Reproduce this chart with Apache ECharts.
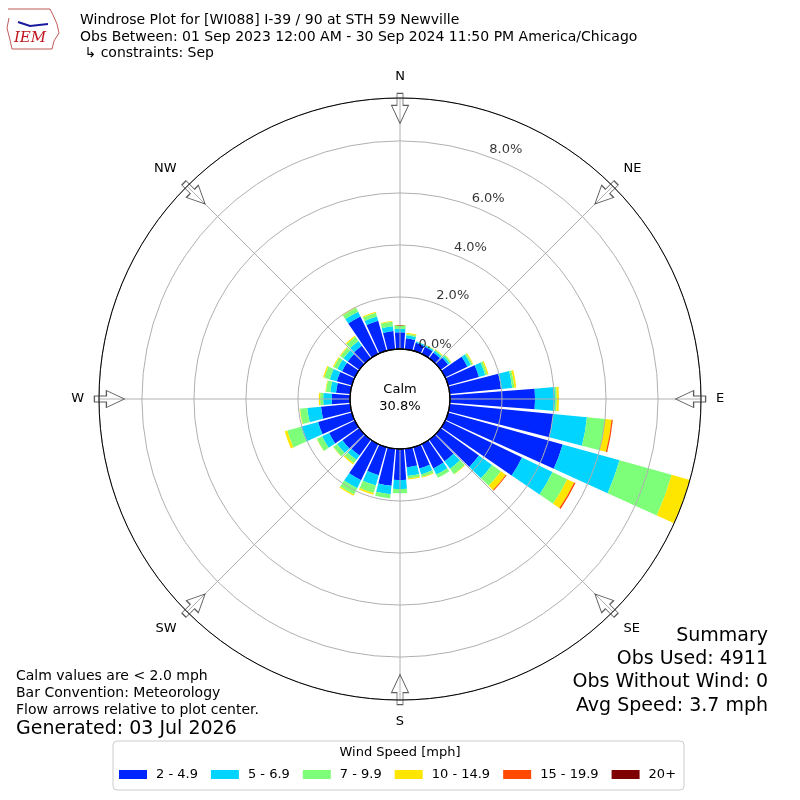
<!DOCTYPE html>
<html>
<head>
<meta charset="utf-8">
<script src="https://cdn.jsdelivr.net/npm/echarts@6/dist/echarts.min.js"></script>
<style>html,body{margin:0;padding:0;background:#fff;}#c{width:800px;height:800px;}</style>
</head>
<body>
<div id="c"></div>
<script>
// ---- data ----
const directions = [0,10,20,30,40,50,60,70,80,90,100,110,120,130,140,150,160,170,180,190,200,210,220,230,240,250,260,270,280,290,300,310,320,330,340,350];
const speedBins = ['2 - 4.9','5 - 6.9','7 - 9.9','10 - 14.9','15 - 19.9','20+'];
const bin1 = [0.64,0.42,0.32,0.30,0.28,0.35,0.95,1.23,1.98,3.27,4.00,4.57,3.28,1.81,1.02,1.04,0.85,0.72,1.19,1.43,1.12,1.54,0.75,0.80,1.10,1.35,1.13,0.70,0.55,0.60,0.55,0.55,0.60,1.60,1.20,0.70];
const bin2 = [0.14,0.12,0.05,0.06,0.08,0.08,0.15,0.25,0.43,0.77,1.30,2.27,1.30,0.62,0.36,0.26,0.24,0.33,0.35,0.33,0.41,0.34,0.20,0.25,0.30,0.68,0.53,0.33,0.22,0.28,0.20,0.20,0.22,0.20,0.17,0.19];
const bin3 = [0.13,0.06,0.01,0.02,0.05,0.06,0.07,0.08,0.09,0.07,0.70,2.08,0.63,0.42,0.25,0.14,0.10,0.10,0.16,0.16,0.30,0.27,0.17,0.18,0.22,0.55,0.28,0.12,0.17,0.22,0.15,0.15,0.20,0.17,0.15,0.17];
const bin4 = [0.01,0.04,0.00,0.01,0.02,0.02,0.03,0.05,0.07,0.08,0.25,0.73,0.29,0.23,0.02,0.00,0.03,0.04,0.00,0.00,0.07,0.05,0.05,0.01,0.01,0.10,0.02,0.05,0.02,0.05,0.04,0.03,0.05,0.03,0.04,0.03];
const bin5 = [0,0,0,0,0,0,0,0,0,0,0.05,0,0.06,0.04,0,0,0,0,0,0,0,0,0,0,0,0,0,0,0,0,0,0,0,0,0,0];
const bin6 = [0,0,0,0,0,0,0,0,0,0,0,0,0,0,0,0,0,0,0,0,0,0,0,0,0,0,0,0,0,0,0,0,0,0,0,0];
const binColors = ['#0026ff','#00d4ff','#7dff7a','#ffe600','#ff4a00','#7f0000'];
const ringTicks = [0,2,4,6,8];
const compass = {0:'N',45:'NE',90:'E',135:'SE',180:'S',225:'SW',270:'W',315:'NW'};
const arrowAngles = [0,45,90,135,180,225,270,315];
const rMax = 9.65;
const calmPct = '30.8%';

const chart = echarts.init(document.getElementById('c'), null, {renderer:'canvas'});
const FONT = '"DejaVu Sans", sans-serif';
const center = [400, 399];
const binData = [bin1,bin2,bin3,bin4,bin5,bin6];

const barSeries = speedBins.map((name,i)=>({
  name: name, type:'bar', coordinateSystem:'polar', polarIndex:0, stack:'w',
  data: binData[i], barCategoryGap:'12%',
  itemStyle:{color: binColors[i]}, z:2
}));

const arrowPath = 'path://M-3,0 L3,0 L3,12 L8.5,12 L0,30 L-8.5,12 L-3,12 Z';

const option = {
  backgroundColor:'#fff',
  animation:false,
  polar:[
    {center:center, radius:[50,301]},
    {center:center, radius:[50,301]},
    {center:center, radius:50}
  ],
  angleAxis:[
    {polarIndex:0, type:'category', data:directions, startAngle:95, clockwise:true,
     axisLine:{show:false}, axisTick:{show:false}, axisLabel:{show:false}, splitLine:{show:false}},
    {polarIndex:1, type:'value', min:0, max:360, interval:45, startAngle:90, clockwise:true, z:5,
     axisLine:{show:true, lineStyle:{color:'#000', width:1}},
     axisTick:{show:false},
     axisLabel:{show:true, margin:15, color:'#000', fontFamily:FONT, fontSize:13,
       formatter:(v)=> compass[v] !== undefined && v !== 360 ? compass[v] : ''},
     splitLine:{show:true, lineStyle:{color:'#b0b0b0', width:1}}},
    {polarIndex:2, type:'value', min:0, max:360, startAngle:90, z:6,
     axisLine:{show:true, lineStyle:{color:'#000', width:1.3}},
     axisTick:{show:false}, axisLabel:{show:false}, splitLine:{show:false}}
  ],
  radiusAxis:[
    {polarIndex:0, type:'value', min:0, max:rMax, axisLine:{show:false}, axisTick:{show:false}, axisLabel:{show:false}, splitLine:{show:false}},
    {polarIndex:1, type:'value', min:0, max:rMax, interval:2, z:5, axisLine:{show:false}, axisTick:{show:false}, axisLabel:{show:false},
     splitLine:{show:true, lineStyle:{color:'#b0b0b0', width:1}}},
    {polarIndex:2, type:'value', min:0, max:1, axisLine:{show:false}, axisTick:{show:false}, axisLabel:{show:false}, splitLine:{show:false}}
  ],
  legend:{
    data: speedBins, left:113, top:741, orient:'horizontal',
    icon:'rect', itemWidth:28, itemHeight:9, itemGap:13,
    padding:[27,8,9,6], borderColor:'#cccccc', borderWidth:1, borderRadius:4,
    backgroundColor:'#fff',
    textStyle:{fontFamily:FONT, fontSize:13, color:'#000', padding:[0,0,0,4]}
  },
  series: barSeries.concat([{
    type:'scatter', coordinateSystem:'polar', polarIndex:1, z:10,
    symbol: arrowPath, symbolSize:[17,30],
    symbolRotate: (v)=> -v[1],
    itemStyle:{color:'rgba(255,255,255,0)', borderColor:'#333', borderWidth:1},
    data: arrowAngles.map(a=>[9.25, a]),
    silent:true
  },{
    type:'scatter', coordinateSystem:'polar', polarIndex:1, z:12,
    symbolSize:1, itemStyle:{color:'rgba(0,0,0,0)'},
    data: ringTicks.map(t=>[t, 19.9]),
    label:{show:true, position:'inside', offset:[18,-7], align:'center', verticalAlign:'middle',
      color:'#000', fontFamily:FONT, fontSize:13,
      formatter:(p)=> p.value[0].toFixed(1)+'%'},
    silent:true
  }]),
  graphic:[
    {type:'polyline', shape:{points:[[8,9],[50,9],[53,15],[57,24],[59,33],[54,41],[52,49],[12,49],[10,40],[7,28],[9,18]]}, style:{stroke:'#b03030', fill:'none', lineWidth:0.8}},
    {type:'polyline', shape:{points:[[18,22],[30,26],[48,24]]}, style:{stroke:'#1a1aa0', fill:'none', lineWidth:2}},
    {type:'text', x:30, y:38, style:{text:'IEM', font:'italic 15px "DejaVu Serif", serif', fill:'#c0141c', textAlign:'center', textVerticalAlign:'middle'}},
    {type:'text', x:80, y:20, style:{text:'Windrose Plot for [WI088] I-39 / 90 at STH 59 Newville', font:'14px '+FONT, fill:'#000', textVerticalAlign:'middle'}},
    {type:'text', x:80, y:37, style:{text:'Obs Between: 01 Sep 2023 12:00 AM - 30 Sep 2024 11:50 PM America/Chicago', font:'14px '+FONT, fill:'#000', textVerticalAlign:'middle'}},
    {type:'text', x:80, y:53, style:{text:' \u21b3 constraints: Sep', font:'14px '+FONT, fill:'#000', textVerticalAlign:'middle'}},
    {type:'text', x:400, y:390, z:20, style:{text:'Calm', font:'13px '+FONT, fill:'#000', textAlign:'center', textVerticalAlign:'middle'}},
    {type:'text', x:400, y:407, z:20, style:{text:calmPct, font:'13px '+FONT, fill:'#000', textAlign:'center', textVerticalAlign:'middle'}},
    {type:'text', x:16, y:676, style:{text:'Calm values are < 2.0 mph', font:'14px '+FONT, fill:'#000', textVerticalAlign:'middle'}},
    {type:'text', x:16, y:693, style:{text:'Bar Convention: Meteorology', font:'14px '+FONT, fill:'#000', textVerticalAlign:'middle'}},
    {type:'text', x:16, y:710, style:{text:'Flow arrows relative to plot center.', font:'14px '+FONT, fill:'#000', textVerticalAlign:'middle'}},
    {type:'text', x:16, y:729, style:{text:'Generated: 03 Jul 2026', font:'19px '+FONT, fill:'#000', textVerticalAlign:'middle'}},
    {type:'text', x:768, y:636, style:{text:'Summary', font:'19px '+FONT, fill:'#000', textAlign:'right', textVerticalAlign:'middle'}},
    {type:'text', x:768, y:659, style:{text:'Obs Used: 4911', font:'19px '+FONT, fill:'#000', textAlign:'right', textVerticalAlign:'middle'}},
    {type:'text', x:768, y:682, style:{text:'Obs Without Wind: 0', font:'19px '+FONT, fill:'#000', textAlign:'right', textVerticalAlign:'middle'}},
    {type:'text', x:768, y:706, style:{text:'Avg Speed: 3.7 mph', font:'19px '+FONT, fill:'#000', textAlign:'right', textVerticalAlign:'middle'}},
    {type:'text', x:400, y:753, z:100, style:{text:'Wind Speed [mph]', font:'13px '+FONT, fill:'#000', textAlign:'center', textVerticalAlign:'middle'}}
  ]
};
chart.setOption(option);
</script>
</body>
</html>
